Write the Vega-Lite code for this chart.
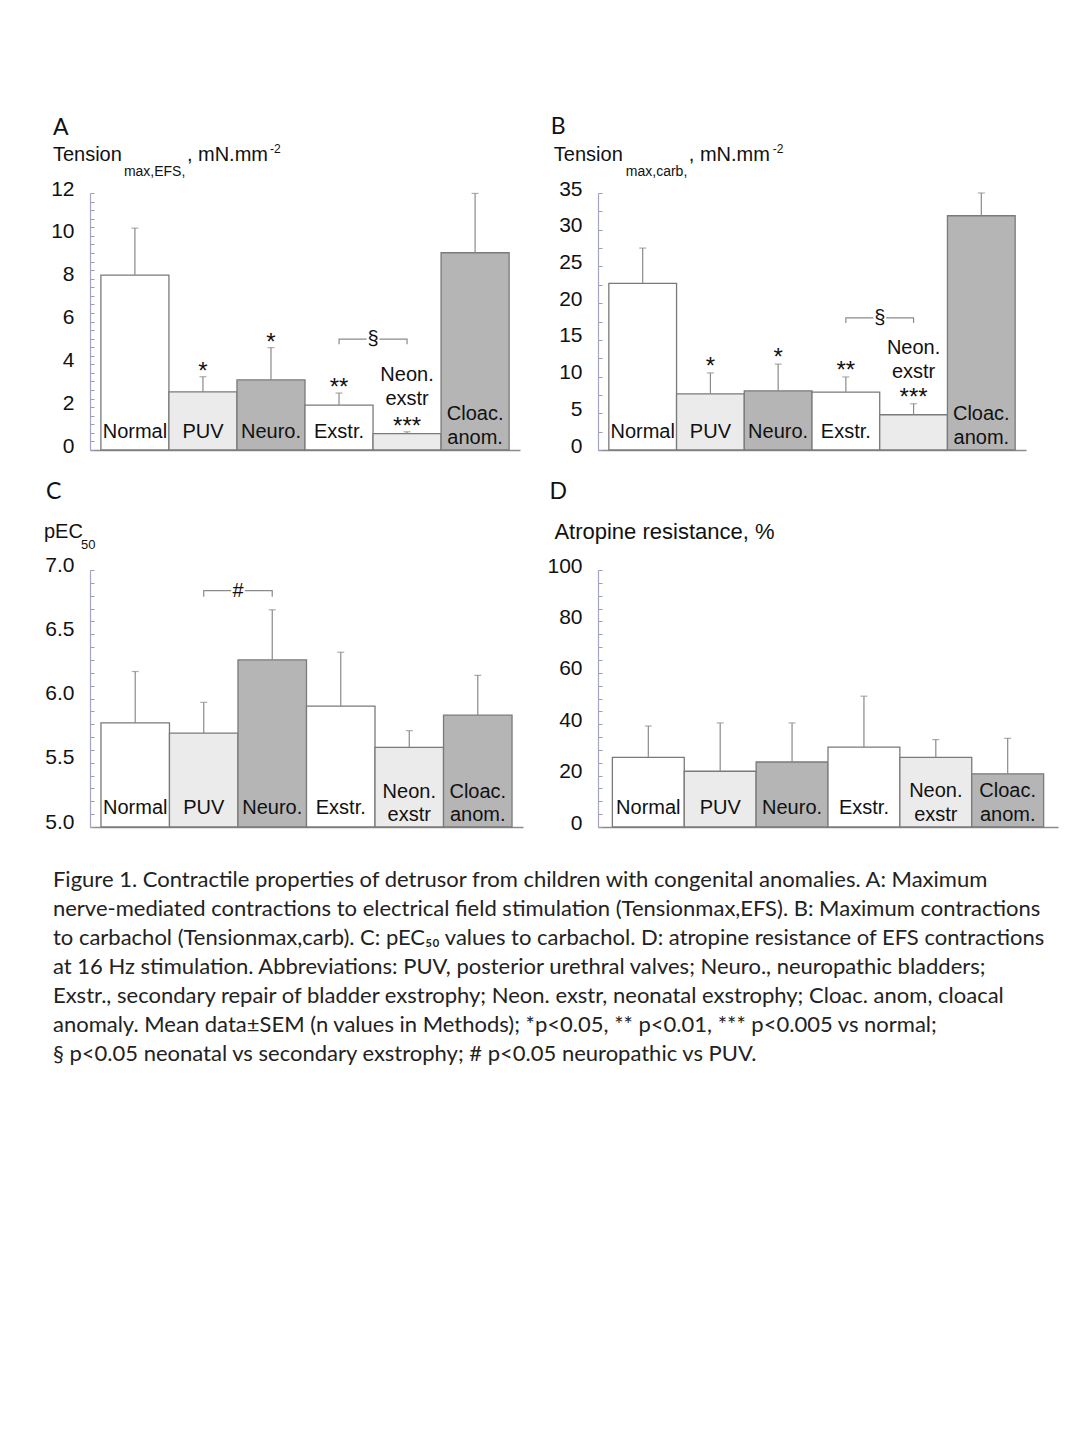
{
  "$schema": "https://vega.github.io/schema/vega-lite/v6.json",
  "padding": {"left": 43, "top": 116, "right": 10, "bottom": 10},
  "background": "white",
  "config": {
    "view": {"stroke": null},
    "axis": {"grid": false},
    "font": "Liberation Sans"
  },
  "title": {
    "text": [
      "Figure 1.  Contractile properties of detrusor from children with congenital anomalies.  A: Maximum",
      "nerve-mediated contractions to electrical field stimulation (Tensionmax,EFS).  B: Maximum contractions",
      "to carbachol (Tensionmax,carb). C:  pEC₅₀ values to carbachol.  D: atropine resistance of EFS contractions",
      "at 16 Hz stimulation.  Abbreviations: PUV, posterior urethral valves; Neuro., neuropathic bladders;",
      "Exstr., secondary repair of bladder exstrophy; Neon. exstr, neonatal exstrophy; Cloac. anom, cloacal",
      "anomaly.  Mean data±SEM (n values in Methods); *p<0.05, ** p<0.01, *** p<0.005 vs normal;",
      "§ p<0.05 neonatal vs secondary exstrophy; # p<0.05 neuropathic vs PUV."
    ],
    "orient": "bottom",
    "anchor": "start",
    "frame": "bounds",
    "dx": 9,
    "offset": 37,
    "baseline": "top",
    "font": "Lato",
    "fontSize": 22,
    "fontWeight": "normal",
    "lineHeight": 29,
    "color": "#222"
  },
  "concat": [
    {
      "width": 430,
      "height": 257,
      "data": {"values": [
        {"group": "Normal", "label": "Normal", "value": 8.17, "upper": 10.36, "sig": ""},
        {"group": "PUV", "label": "PUV", "value": 2.71, "upper": 3.42, "sig": "*"},
        {"group": "Neuro.", "label": "Neuro.", "value": 3.27, "upper": 4.78, "sig": "*"},
        {"group": "Exstr.", "label": "Exstr.", "value": 2.10, "upper": 2.66, "sig": "**"},
        {"group": "Neon. exstr", "label": "Neon.\nexstr", "value": 0.76, "upper": 0.85, "sig": "***"},
        {"group": "Cloac. anom.", "label": "Cloac.\nanom.", "value": 9.21, "upper": 11.98, "sig": ""}
      ]},
      "encoding": {
        "x": {"field": "group", "type": "nominal",
          "scale": {"type": "band", "domain": ["Normal", "PUV", "Neuro.", "Exstr.", "Neon. exstr", "Cloac. anom."], "paddingInner": 0, "paddingOuter": 0.16},
          "axis": {"title": null, "labels": false, "ticks": false, "domainColor": "#8c8c8c", "domainWidth": 1.5}}
      },
      "layer": [
        {"mark": {"type": "bar", "stroke": "#7a7a7a", "strokeWidth": 1.3},
          "encoding": {
            "y": {"field": "value", "type": "quantitative",
              "scale": {"domain": [0, 12], "nice": false},
              "axis": {"title": null, "format": ".0f", "values": [0,0.4,0.8,1.2,1.6,2,2.4,2.8,3.2,3.6,4,4.4,4.8,5.2,5.6,6,6.4,6.8,7.2,7.6,8,8.4,8.8,9.2,9.6,10,10.4,10.8,11.2,11.6,12],
                "tickCount": 200, "tickMinStep": 0.1,
                "labelExpr": "abs(datum.value/2 - round(datum.value/2)) < 0.001 ? datum.label : ''",
                "labelOverlap": false, "labelFlush": false, "tickSize": -4, "tickColor": "#9c9cc0", "tickWidth": 1,
                "domainColor": "#a4a4c4", "domainWidth": 1.2, "labelFont": "Liberation Sans", "labelFontSize": 21,
                "labelColor": "#111", "labelPadding": 20, "labelOffset": -4}},
            "y2": {"datum": 0},
            "fill": {"field": "group", "type": "nominal",
              "scale": {"domain": ["Normal", "PUV", "Neuro.", "Exstr.", "Neon. exstr", "Cloac. anom."], "range": ["#ffffff", "#ebebeb", "#b5b5b5", "#ffffff", "#ebebeb", "#b5b5b5"]},
              "legend": null}
          }},
        {"mark": {"type": "rule", "color": "#8a8a8a", "strokeWidth": 1.2},
          "encoding": {"y": {"field": "value", "type": "quantitative"}, "y2": {"field": "upper"}}},
        {"mark": {"type": "tick", "orient": "horizontal", "size": 7, "thickness": 1.2, "color": "#8a8a8a"},
          "encoding": {"y": {"field": "upper", "type": "quantitative"}}},
        {"transform": [{"filter": "datum.sig !== ''"}],
          "mark": {"type": "text", "font": "Liberation Sans", "fontSize": 24, "baseline": "alphabetic", "dy": 2, "color": "#111"},
          "encoding": {"y": {"field": "upper", "type": "quantitative"}, "text": {"field": "sig"}}},
        {"transform": [{"filter": "datum.group !== 'Neon. exstr' && datum.group !== 'Cloac. anom.'"}],
          "mark": {"type": "text", "font": "Liberation Sans", "fontSize": 20, "baseline": "alphabetic", "dy": -12, "color": "#111"},
          "encoding": {"y": {"datum": 0}, "text": {"field": "label"}}},
        {"transform": [{"filter": "datum.group === 'Cloac. anom.'"}],
          "mark": {"type": "text", "font": "Liberation Sans", "fontSize": 20, "baseline": "alphabetic", "lineBreak": "\n", "lineHeight": 24, "dy": -30, "color": "#111"},
          "encoding": {"y": {"datum": 0}, "text": {"field": "label"}}},
        {"transform": [{"filter": "datum.group === 'Neon. exstr'"}],
          "mark": {"type": "text", "font": "Liberation Sans", "fontSize": 20, "baseline": "alphabetic", "lineBreak": "\n", "lineHeight": 24.5, "dy": -51, "color": "#111"},
          "encoding": {"y": {"field": "upper", "type": "quantitative"}, "text": {"field": "label"}}},
        {"data": {"values": [{"left": "Exstr.", "level": 5.18, "sym": "§"}]},
          "layer": [
            {"mark": {"type": "point", "shape": "M-1,0.15L-1,0L-0.19,0M0.19,0L1,0L1,0.15", "size": 4624, "filled": false, "stroke": "#8a8a8a", "strokeWidth": 1.2, "opacity": 1},
              "encoding": {"x": {"field": "left", "type": "nominal", "bandPosition": 1}, "y": {"field": "level", "type": "quantitative"}}},
            {"mark": {"type": "text", "font": "Liberation Sans", "fontSize": 20, "baseline": "middle", "color": "#111"},
              "encoding": {"x": {"field": "left", "type": "nominal", "bandPosition": 1}, "y": {"field": "level", "type": "quantitative"}, "text": {"field": "sym"}}}
          ]},
        {"data": {"values": [{}]},
          "layer": [
            {"mark": {"type": "text", "text": "A", "font": "Lato", "fontSize": 23, "align": "left", "baseline": "alphabetic", "dx": -48, "dy": -58, "color": "#111"},
              "encoding": {"x": {"datum": "Normal", "bandPosition": 0}, "y": {"datum": 12}}},
            {"mark": {"type": "text", "text": "Tension", "font": "Liberation Sans", "fontSize": 20, "align": "left", "baseline": "alphabetic", "dx": -48, "dy": -32, "color": "#111"},
              "encoding": {"x": {"datum": "Normal", "bandPosition": 0}, "y": {"datum": 12}}},
            {"mark": {"type": "text", "text": "max,EFS,", "font": "Liberation Sans", "fontSize": 14, "align": "left", "baseline": "alphabetic", "dx": 23, "dy": -17, "color": "#111"},
              "encoding": {"x": {"datum": "Normal", "bandPosition": 0}, "y": {"datum": 12}}},
            {"mark": {"type": "text", "text": ", mN.mm", "font": "Liberation Sans", "fontSize": 20, "align": "left", "baseline": "alphabetic", "dx": 86, "dy": -32, "color": "#111"},
              "encoding": {"x": {"datum": "Normal", "bandPosition": 0}, "y": {"datum": 12}}},
            {"mark": {"type": "text", "text": "-2", "font": "Liberation Sans", "fontSize": 12, "align": "left", "baseline": "alphabetic", "dx": 169, "dy": -40, "color": "#111"},
              "encoding": {"x": {"datum": "Normal", "bandPosition": 0}, "y": {"datum": 12}}}
          ]}
      ]
    },
    {
      "width": 428,
      "height": 257,
      "data": {"values": [
        {"group": "Normal", "label": "Normal", "value": 22.7, "upper": 27.5, "sig": ""},
        {"group": "PUV", "label": "PUV", "value": 7.64, "upper": 10.5, "sig": "*"},
        {"group": "Neuro.", "label": "Neuro.", "value": 8.05, "upper": 11.7, "sig": "*"},
        {"group": "Exstr.", "label": "Exstr.", "value": 7.87, "upper": 9.95, "sig": "**"},
        {"group": "Neon. exstr", "label": "Neon.\nexstr", "value": 4.8, "upper": 6.3, "sig": "***"},
        {"group": "Cloac. anom.", "label": "Cloac.\nanom.", "value": 31.9, "upper": 35.0, "sig": ""}
      ]},
      "encoding": {
        "x": {"field": "group", "type": "nominal",
          "scale": {"type": "band", "domain": ["Normal", "PUV", "Neuro.", "Exstr.", "Neon. exstr", "Cloac. anom."], "paddingInner": 0, "paddingOuter": 0.16},
          "axis": {"title": null, "labels": false, "ticks": false, "domainColor": "#8c8c8c", "domainWidth": 1.5}}
      },
      "layer": [
        {"mark": {"type": "bar", "stroke": "#7a7a7a", "strokeWidth": 1.3},
          "encoding": {
            "y": {"field": "value", "type": "quantitative",
              "scale": {"domain": [0, 35], "nice": false},
              "axis": {"title": null, "format": ".0f", "values": [0,2.5,5,7.5,10,12.5,15,17.5,20,22.5,25,27.5,30,32.5,35],
                "tickCount": 200, "tickMinStep": 0.1,
                "labelExpr": "abs(datum.value/5 - round(datum.value/5)) < 0.001 ? datum.label : ''",
                "labelOverlap": false, "labelFlush": false, "tickSize": -4, "tickColor": "#9c9cc0", "tickWidth": 1,
                "domainColor": "#a4a4c4", "domainWidth": 1.2, "labelFont": "Liberation Sans", "labelFontSize": 21,
                "labelColor": "#111", "labelPadding": 20, "labelOffset": -4}},
            "y2": {"datum": 0},
            "fill": {"field": "group", "type": "nominal",
              "scale": {"domain": ["Normal", "PUV", "Neuro.", "Exstr.", "Neon. exstr", "Cloac. anom."], "range": ["#ffffff", "#ebebeb", "#b5b5b5", "#ffffff", "#ebebeb", "#b5b5b5"]},
              "legend": null}
          }},
        {"mark": {"type": "rule", "color": "#8a8a8a", "strokeWidth": 1.2},
          "encoding": {"y": {"field": "value", "type": "quantitative"}, "y2": {"field": "upper"}}},
        {"mark": {"type": "tick", "orient": "horizontal", "size": 7, "thickness": 1.2, "color": "#8a8a8a"},
          "encoding": {"y": {"field": "upper", "type": "quantitative"}}},
        {"transform": [{"filter": "datum.sig !== ''"}],
          "mark": {"type": "text", "font": "Liberation Sans", "fontSize": 24, "baseline": "alphabetic", "dy": 1, "color": "#111"},
          "encoding": {"y": {"field": "upper", "type": "quantitative"}, "text": {"field": "sig"}}},
        {"transform": [{"filter": "datum.group !== 'Neon. exstr' && datum.group !== 'Cloac. anom.'"}],
          "mark": {"type": "text", "font": "Liberation Sans", "fontSize": 20, "baseline": "alphabetic", "dy": -12, "color": "#111"},
          "encoding": {"y": {"datum": 0}, "text": {"field": "label"}}},
        {"transform": [{"filter": "datum.group === 'Cloac. anom.'"}],
          "mark": {"type": "text", "font": "Liberation Sans", "fontSize": 20, "baseline": "alphabetic", "lineBreak": "\n", "lineHeight": 24, "dy": -30, "color": "#111"},
          "encoding": {"y": {"datum": 0}, "text": {"field": "label"}}},
        {"transform": [{"filter": "datum.group === 'Neon. exstr'"}],
          "mark": {"type": "text", "font": "Liberation Sans", "fontSize": 20, "baseline": "alphabetic", "lineBreak": "\n", "lineHeight": 24.5, "dy": -50, "color": "#111"},
          "encoding": {"y": {"field": "upper", "type": "quantitative"}, "text": {"field": "label"}}},
        {"data": {"values": [{"left": "Exstr.", "level": 18.0, "sym": "§"}]},
          "layer": [
            {"mark": {"type": "point", "shape": "M-1,0.15L-1,0L-0.19,0M0.19,0L1,0L1,0.15", "size": 4584, "filled": false, "stroke": "#8a8a8a", "strokeWidth": 1.2, "opacity": 1},
              "encoding": {"x": {"field": "left", "type": "nominal", "bandPosition": 1}, "y": {"field": "level", "type": "quantitative"}}},
            {"mark": {"type": "text", "font": "Liberation Sans", "fontSize": 20, "baseline": "middle", "color": "#111"},
              "encoding": {"x": {"field": "left", "type": "nominal", "bandPosition": 1}, "y": {"field": "level", "type": "quantitative"}, "text": {"field": "sym"}}}
          ]},
        {"data": {"values": [{}]},
          "layer": [
            {"mark": {"type": "text", "text": "B", "font": "Lato", "fontSize": 23, "align": "left", "baseline": "alphabetic", "dx": -58, "dy": -59, "color": "#111"},
              "encoding": {"x": {"datum": "Normal", "bandPosition": 0}, "y": {"datum": 35}}},
            {"mark": {"type": "text", "text": "Tension", "font": "Liberation Sans", "fontSize": 20, "align": "left", "baseline": "alphabetic", "dx": -55, "dy": -32, "color": "#111"},
              "encoding": {"x": {"datum": "Normal", "bandPosition": 0}, "y": {"datum": 35}}},
            {"mark": {"type": "text", "text": "max,carb,", "font": "Liberation Sans", "fontSize": 14, "align": "left", "baseline": "alphabetic", "dx": 17, "dy": -17, "color": "#111"},
              "encoding": {"x": {"datum": "Normal", "bandPosition": 0}, "y": {"datum": 35}}},
            {"mark": {"type": "text", "text": ", mN.mm", "font": "Liberation Sans", "fontSize": 20, "align": "left", "baseline": "alphabetic", "dx": 80, "dy": -32, "color": "#111"},
              "encoding": {"x": {"datum": "Normal", "bandPosition": 0}, "y": {"datum": 35}}},
            {"mark": {"type": "text", "text": "-2", "font": "Liberation Sans", "fontSize": 12, "align": "left", "baseline": "alphabetic", "dx": 164, "dy": -40, "color": "#111"},
              "encoding": {"x": {"datum": "Normal", "bandPosition": 0}, "y": {"datum": 35}}}
          ]}
      ]
    },
    {
      "width": 433,
      "height": 257,
      "data": {"values": [
        {"group": "Normal", "label": "Normal", "value": 5.81, "upper": 6.21},
        {"group": "PUV", "label": "PUV", "value": 5.73, "upper": 5.97},
        {"group": "Neuro.", "label": "Neuro.", "value": 6.30, "upper": 6.69},
        {"group": "Exstr.", "label": "Exstr.", "value": 5.94, "upper": 6.36},
        {"group": "Neon. exstr", "label": "Neon.\nexstr", "value": 5.62, "upper": 5.75},
        {"group": "Cloac. anom.", "label": "Cloac.\nanom.", "value": 5.87, "upper": 6.18}
      ]},
      "encoding": {
        "x": {"field": "group", "type": "nominal",
          "scale": {"type": "band", "domain": ["Normal", "PUV", "Neuro.", "Exstr.", "Neon. exstr", "Cloac. anom."], "paddingInner": 0, "paddingOuter": 0.16},
          "axis": {"title": null, "labels": false, "ticks": false, "domainColor": "#8c8c8c", "domainWidth": 1.5}}
      },
      "layer": [
        {"mark": {"type": "bar", "stroke": "#7a7a7a", "strokeWidth": 1.3},
          "encoding": {
            "y": {"field": "value", "type": "quantitative",
              "scale": {"domain": [5, 7], "nice": false, "zero": false},
              "axis": {"title": null, "format": ".1f", "values": [5,5.1,5.2,5.3,5.4,5.5,5.6,5.7,5.8,5.9,6,6.1,6.2,6.3,6.4,6.5,6.6,6.7,6.8,6.9,7],
                "tickCount": 200, "tickMinStep": 0.01,
                "labelExpr": "abs(datum.value*2 - round(datum.value*2)) < 0.001 ? datum.label : ''",
                "labelOverlap": false, "labelFlush": false, "tickSize": -4, "tickColor": "#9c9cc0", "tickWidth": 1,
                "domainColor": "#a4a4c4", "domainWidth": 1.2, "labelFont": "Liberation Sans", "labelFontSize": 21,
                "labelColor": "#111", "labelPadding": 20, "labelOffset": -5}},
            "y2": {"datum": 5},
            "fill": {"field": "group", "type": "nominal",
              "scale": {"domain": ["Normal", "PUV", "Neuro.", "Exstr.", "Neon. exstr", "Cloac. anom."], "range": ["#ffffff", "#ebebeb", "#b5b5b5", "#ffffff", "#ebebeb", "#b5b5b5"]},
              "legend": null}
          }},
        {"mark": {"type": "rule", "color": "#8a8a8a", "strokeWidth": 1.2},
          "encoding": {"y": {"field": "value", "type": "quantitative"}, "y2": {"field": "upper"}}},
        {"mark": {"type": "tick", "orient": "horizontal", "size": 7, "thickness": 1.2, "color": "#8a8a8a"},
          "encoding": {"y": {"field": "upper", "type": "quantitative"}}},
        {"transform": [{"filter": "datum.group !== 'Neon. exstr' && datum.group !== 'Cloac. anom.'"}],
          "mark": {"type": "text", "font": "Liberation Sans", "fontSize": 20, "baseline": "alphabetic", "dy": -13, "color": "#111"},
          "encoding": {"y": {"datum": 5}, "text": {"field": "label"}}},
        {"transform": [{"filter": "datum.group === 'Neon. exstr' || datum.group === 'Cloac. anom.'"}],
          "mark": {"type": "text", "font": "Liberation Sans", "fontSize": 20, "baseline": "alphabetic", "lineBreak": "\n", "lineHeight": 23, "dy": -29, "color": "#111"},
          "encoding": {"y": {"datum": 5}, "text": {"field": "label"}}},
        {"data": {"values": [{"left": "PUV", "level": 6.84, "sym": "#"}]},
          "layer": [
            {"mark": {"type": "point", "shape": "M-1,0.18L-1,0L-0.2,0M0.2,0L1,0L1,0.18", "size": 4692, "filled": false, "stroke": "#8a8a8a", "strokeWidth": 1.2, "opacity": 1},
              "encoding": {"x": {"field": "left", "type": "nominal", "bandPosition": 1}, "y": {"field": "level", "type": "quantitative"}}},
            {"mark": {"type": "text", "font": "Liberation Sans", "fontSize": 20, "baseline": "middle", "color": "#111"},
              "encoding": {"x": {"field": "left", "type": "nominal", "bandPosition": 1}, "y": {"field": "level", "type": "quantitative"}, "text": {"field": "sym"}}}
          ]},
        {"data": {"values": [{}]},
          "layer": [
            {"mark": {"type": "text", "text": "C", "font": "Lato", "fontSize": 23, "align": "left", "baseline": "alphabetic", "dx": -55, "dy": -71, "color": "#111"},
              "encoding": {"x": {"datum": "Normal", "bandPosition": 0}, "y": {"datum": 7}}},
            {"mark": {"type": "text", "text": "pEC", "font": "Liberation Sans", "fontSize": 20, "align": "left", "baseline": "alphabetic", "dx": -57, "dy": -32, "color": "#111"},
              "encoding": {"x": {"datum": "Normal", "bandPosition": 0}, "y": {"datum": 7}}},
            {"mark": {"type": "text", "text": "50", "font": "Liberation Sans", "fontSize": 13, "align": "left", "baseline": "alphabetic", "dx": -20, "dy": -21, "color": "#111"},
              "encoding": {"x": {"datum": "Normal", "bandPosition": 0}, "y": {"datum": 7}}}
          ]}
      ]
    },
    {
      "width": 460,
      "height": 257,
      "data": {"values": [
        {"group": "Normal", "label": "Normal", "value": 27.1, "upper": 39.3},
        {"group": "PUV", "label": "PUV", "value": 21.7, "upper": 40.5},
        {"group": "Neuro.", "label": "Neuro.", "value": 25.3, "upper": 40.5},
        {"group": "Exstr.", "label": "Exstr.", "value": 31.1, "upper": 50.9},
        {"group": "Neon. exstr", "label": "Neon.\nexstr", "value": 27.1, "upper": 34.0},
        {"group": "Cloac. anom.", "label": "Cloac.\nanom.", "value": 20.7, "upper": 34.5}
      ]},
      "encoding": {
        "x": {"field": "group", "type": "nominal",
          "scale": {"type": "band", "domain": ["Normal", "PUV", "Neuro.", "Exstr.", "Neon. exstr", "Cloac. anom."], "paddingInner": 0, "paddingOuter": 0.2},
          "axis": {"title": null, "labels": false, "ticks": false, "domainColor": "#8c8c8c", "domainWidth": 1.5}}
      },
      "layer": [
        {"mark": {"type": "bar", "stroke": "#7a7a7a", "strokeWidth": 1.3},
          "encoding": {
            "y": {"field": "value", "type": "quantitative",
              "scale": {"domain": [0, 100], "nice": false},
              "axis": {"title": null, "format": ".0f", "values": [0,5,10,15,20,25,30,35,40,45,50,55,60,65,70,75,80,85,90,95,100],
                "tickCount": 200, "tickMinStep": 0.1,
                "labelExpr": "abs(datum.value/20 - round(datum.value/20)) < 0.001 ? datum.label : ''",
                "labelOverlap": false, "labelFlush": false, "tickSize": -4, "tickColor": "#9c9cc0", "tickWidth": 1,
                "domainColor": "#a4a4c4", "domainWidth": 1.2, "labelFont": "Liberation Sans", "labelFontSize": 21,
                "labelColor": "#111", "labelPadding": 20, "labelOffset": -4}},
            "y2": {"datum": 0},
            "fill": {"field": "group", "type": "nominal",
              "scale": {"domain": ["Normal", "PUV", "Neuro.", "Exstr.", "Neon. exstr", "Cloac. anom."], "range": ["#ffffff", "#ebebeb", "#b5b5b5", "#ffffff", "#ebebeb", "#b5b5b5"]},
              "legend": null}
          }},
        {"mark": {"type": "rule", "color": "#8a8a8a", "strokeWidth": 1.2},
          "encoding": {"y": {"field": "value", "type": "quantitative"}, "y2": {"field": "upper"}}},
        {"mark": {"type": "tick", "orient": "horizontal", "size": 7, "thickness": 1.2, "color": "#8a8a8a"},
          "encoding": {"y": {"field": "upper", "type": "quantitative"}}},
        {"transform": [{"filter": "datum.group !== 'Neon. exstr' && datum.group !== 'Cloac. anom.'"}],
          "mark": {"type": "text", "font": "Liberation Sans", "fontSize": 20, "baseline": "alphabetic", "dy": -13, "color": "#111"},
          "encoding": {"y": {"datum": 0}, "text": {"field": "label"}}},
        {"transform": [{"filter": "datum.group === 'Neon. exstr' || datum.group === 'Cloac. anom.'"}],
          "mark": {"type": "text", "font": "Liberation Sans", "fontSize": 20, "baseline": "alphabetic", "lineBreak": "\n", "lineHeight": 24, "dy": -30, "color": "#111"},
          "encoding": {"y": {"datum": 0}, "text": {"field": "label"}}},
        {"data": {"values": [{}]},
          "layer": [
            {"mark": {"type": "text", "text": "D", "font": "Lato", "fontSize": 23, "align": "left", "baseline": "alphabetic", "dx": -63, "dy": -71, "color": "#111"},
              "encoding": {"x": {"datum": "Normal", "bandPosition": 0}, "y": {"datum": 100}}},
            {"mark": {"type": "text", "text": "Atropine resistance, %", "font": "Liberation Sans", "fontSize": 22, "align": "left", "baseline": "alphabetic", "dx": -58, "dy": -31, "color": "#111"},
              "encoding": {"x": {"datum": "Normal", "bandPosition": 0}, "y": {"datum": 100}}}
          ]}
      ]
    }
  ],
  "columns": 2,
  "bounds": "flush",
  "spacing": {"row": 120, "column": 75}
}
